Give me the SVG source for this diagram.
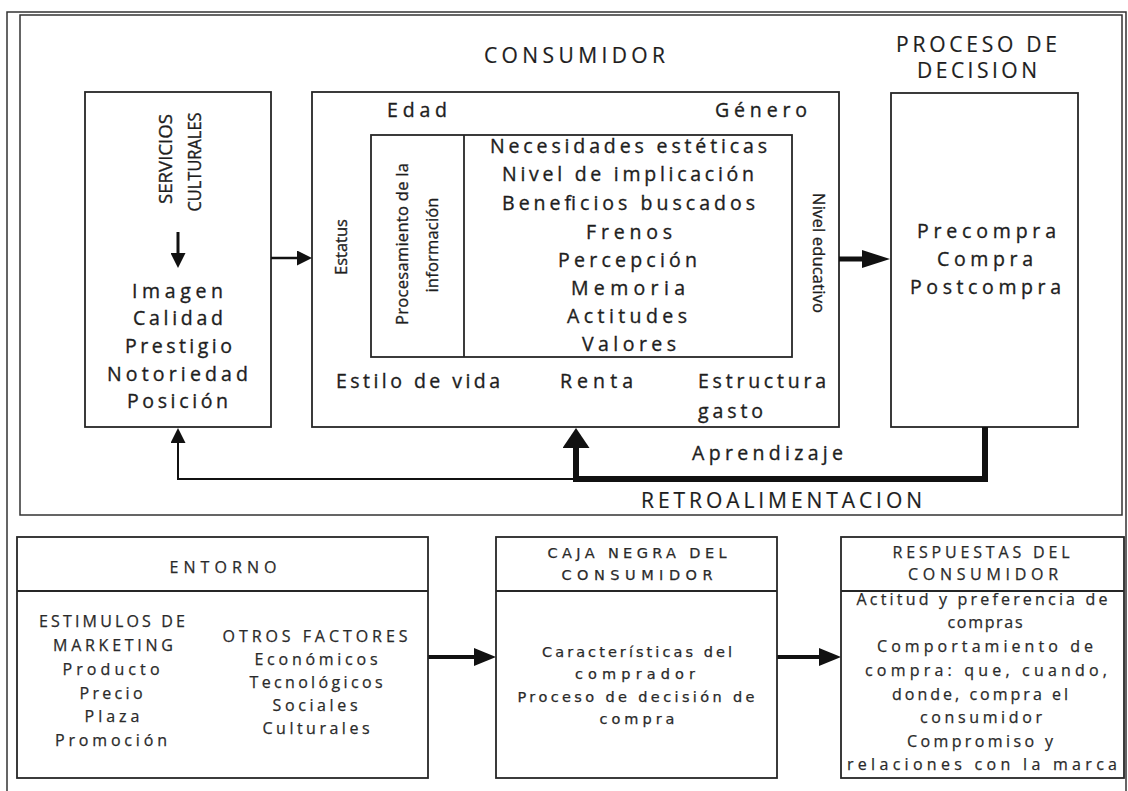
<svg xmlns="http://www.w3.org/2000/svg" width="1128" height="791" viewBox="0 0 1128 791">
<style>
.box{fill:none;stroke:#262626;stroke-width:1.8}
.frame{fill:none;stroke:#333;stroke-width:1.5}
.t{font-family:"Open Sans","Liberation Sans",Arial,sans-serif;fill:#1e1e1e;text-anchor:middle;stroke:#1e1e1e;stroke-width:0.35}
.m{font-size:19.5px}
.h{font-size:21px;stroke-width:0.2}
.s{font-size:16.5px}
.b{font-size:16px;fill:#2a2a2a;stroke:#2a2a2a;stroke-width:0.25}
.v{font-family:"DejaVu Sans","Open Sans",sans-serif;font-size:14.5px}
.c{fill:none;stroke:#111}
</style>
<defs>
<marker id="a1" markerUnits="userSpaceOnUse" markerWidth="15" markerHeight="15" viewBox="0 0 15 15" refX="0" refY="7.5" orient="auto"><path d="M0,0L15,7.5L0,15z" fill="#111"/></marker>
<marker id="a2" markerUnits="userSpaceOnUse" markerWidth="28" markerHeight="18" viewBox="0 0 28 18" refX="0" refY="9" orient="auto"><path d="M0,0L28,9L0,18z" fill="#111"/></marker>
<marker id="a3" markerUnits="userSpaceOnUse" markerWidth="20" markerHeight="27" viewBox="0 0 20 27" refX="0" refY="13.5" orient="auto"><path d="M0,0L20,13.5L0,27z" fill="#111"/></marker>
<marker id="a4" markerUnits="userSpaceOnUse" markerWidth="22" markerHeight="18" viewBox="0 0 22 18" refX="0" refY="9" orient="auto"><path d="M0,0L22,9L0,18z" fill="#111"/></marker>
</defs>
<rect width="1128" height="791" fill="#fff"/>
<g id="outer-border"><path class="frame" d="M7,791V12H1126V791"/></g>
<g id="top-frame"><rect class="frame" x="20" y="15" width="1102" height="500"/></g>

<g id="servicios-culturales">
<rect class="box" x="85" y="92" width="186" height="335"/>
<text class="t" font-size="17.5" transform="translate(172,159) rotate(-90)" textLength="90" lengthAdjust="spacingAndGlyphs">SERVICIOS</text>
<text class="t" font-size="17.5" transform="translate(201,162) rotate(-90)" textLength="99" lengthAdjust="spacingAndGlyphs">CULTURALES</text>
<text class="t m" x="177.5" y="298" textLength="91">Imagen</text>
<text class="t m" x="178" y="325" textLength="90">Calidad</text>
<text class="t m" x="178.5" y="353" textLength="107">Prestigio</text>
<text class="t m" x="177.5" y="381" textLength="141">Notoriedad</text>
<text class="t m" x="177.5" y="408" textLength="101">Posición</text>
</g>

<g id="consumidor">
<text class="t h" x="574.5" y="63" textLength="181">CONSUMIDOR</text>
<rect class="box" x="312" y="92" width="527" height="335"/>
<text class="t m" x="417" y="117" textLength="60">Edad</text>
<text class="t m" x="761" y="117" textLength="92">Género</text>
<text class="t s" transform="translate(347,247) rotate(-90)" textLength="56">Estatus</text>
<text class="t s" font-size="15" transform="translate(813,253) rotate(90)" textLength="120">Nivel educativo</text>
<text class="t m" x="418" y="388" textLength="164">Estilo de vida</text>
<text class="t m" x="596.5" y="388" textLength="73">Renta</text>
<text class="t m" x="762" y="388" textLength="128">Estructura</text>
<text class="t m" x="730.5" y="418" textLength="65">gasto</text>
</g>

<g id="procesamiento">
<rect class="box" x="371" y="135" width="421" height="222"/>
<line class="box" x1="464" y1="135" x2="464" y2="357"/>
<text class="t s" transform="translate(408,244) rotate(-90)" textLength="162">Procesamiento de la</text>
<text class="t s" transform="translate(438,245) rotate(-90)" textLength="95">información</text>
<text class="t m" x="628.5" y="153" textLength="277">Necesidades estéticas</text>
<text class="t m" x="628" y="181" textLength="252">Nivel de implicación</text>
<text class="t m" x="628.5" y="210" textLength="253">Beneficios buscados</text>
<text class="t m" x="629" y="239" textLength="86">Frenos</text>
<text class="t m" x="627.5" y="267" textLength="139">Percepción</text>
<text class="t m" x="628" y="295" textLength="114">Memoria</text>
<text class="t m" x="627" y="323" textLength="120">Actitudes</text>
<text class="t m" x="629" y="351" textLength="94">Valores</text>
</g>

<g id="proceso-decision">
<text class="t h" x="976.5" y="52" textLength="161">PROCESO DE</text>
<text class="t h" x="977" y="78" textLength="120">DECISION</text>
<rect class="box" x="891" y="93" width="187" height="334"/>
<text class="t m" x="986.5" y="238" textLength="139">Precompra</text>
<text class="t m" x="985" y="266" textLength="96">Compra</text>
<text class="t m" x="985.5" y="294" textLength="151">Postcompra</text>
</g>

<g id="connectors">
<path class="c" stroke-width="3" d="M178,232V253" marker-end="url(#a1)"/>
<path class="c" stroke-width="2.5" d="M271,258H297" marker-end="url(#a1)"/>
<path class="c" stroke-width="5" d="M839,259H862" marker-end="url(#a2)"/>
<path class="c" stroke-width="2" d="M576,479H178V443" marker-end="url(#a1)"/>
<path class="c" stroke-width="6" d="M985,427V479H576V448" marker-end="url(#a3)"/>
<path class="c" stroke-width="4" d="M428,657H474" marker-end="url(#a4)"/>
<path class="c" stroke-width="4" d="M777,657H819" marker-end="url(#a4)"/>
</g>

<g id="feedback-labels">
<text class="t m" x="767.5" y="460" textLength="151">Aprendizaje</text>
<text class="t h" x="781.5" y="508" textLength="281">RETROALIMENTACION</text>
</g>

<g id="entorno">
<rect class="box" x="17" y="537" width="411" height="241"/>
<line class="box" x1="17" y1="591" x2="428" y2="591"/>
<text class="t b" x="223" y="573" textLength="107">ENTORNO</text>
<text class="t b" x="112" y="627" textLength="146">ESTIMULOS DE</text>
<text class="t b" x="113" y="651" textLength="120">MARKETING</text>
<text class="t b" x="111" y="675" textLength="97">Producto</text>
<text class="t b" x="111" y="699" textLength="63">Precio</text>
<text class="t b" x="112" y="722" textLength="55">Plaza</text>
<text class="t b" x="111" y="746" textLength="112">Promoción</text>
<text class="t b" x="315" y="642" textLength="185">OTROS FACTORES</text>
<text class="t b" x="316" y="665" textLength="123">Económicos</text>
<text class="t b" x="316" y="688" textLength="133">Tecnológicos</text>
<text class="t b" x="315" y="711" textLength="85">Sociales</text>
<text class="t b" x="316" y="734" textLength="107">Culturales</text>
</g>

<g id="caja-negra">
<rect class="box" x="496" y="537" width="281" height="241"/>
<line class="box" x1="496" y1="591" x2="777" y2="591"/>
<text class="t b v" x="637" y="558" textLength="179">CAJA NEGRA DEL</text>
<text class="t b v" x="637" y="580" textLength="151">CONSUMIDOR</text>
<text class="t b v" x="637" y="657" textLength="190">Características del</text>
<text class="t b v" x="635" y="679" textLength="120">comprador</text>
<text class="t b v" x="636" y="702" textLength="237">Proceso de decisión de</text>
<text class="t b v" x="637" y="724" textLength="75">compra</text>
</g>

<g id="respuestas">
<rect class="box" x="841" y="537" width="283" height="241"/>
<line class="box" x1="841" y1="591" x2="1124" y2="591"/>
<text class="t b" x="981" y="558" textLength="177">RESPUESTAS DEL</text>
<text class="t b" x="983" y="580" textLength="150">CONSUMIDOR</text>
<text class="t b" x="982" y="605" textLength="251">Actitud y preferencia de</text>
<text class="t b" x="985" y="628" textLength="75">compras</text>
<text class="t b" x="985" y="652" textLength="216">Comportamiento de</text>
<text class="t b" x="986" y="676" textLength="242">compra: que, cuando,</text>
<text class="t b" x="980" y="700" textLength="176">donde, compra el</text>
<text class="t b" x="981" y="723" textLength="122">consumidor</text>
<text class="t b" x="980" y="747" textLength="146">Compromiso y</text>
<text class="t b" x="982" y="770" textLength="270">relaciones con la marca</text>
</g>
</svg>
